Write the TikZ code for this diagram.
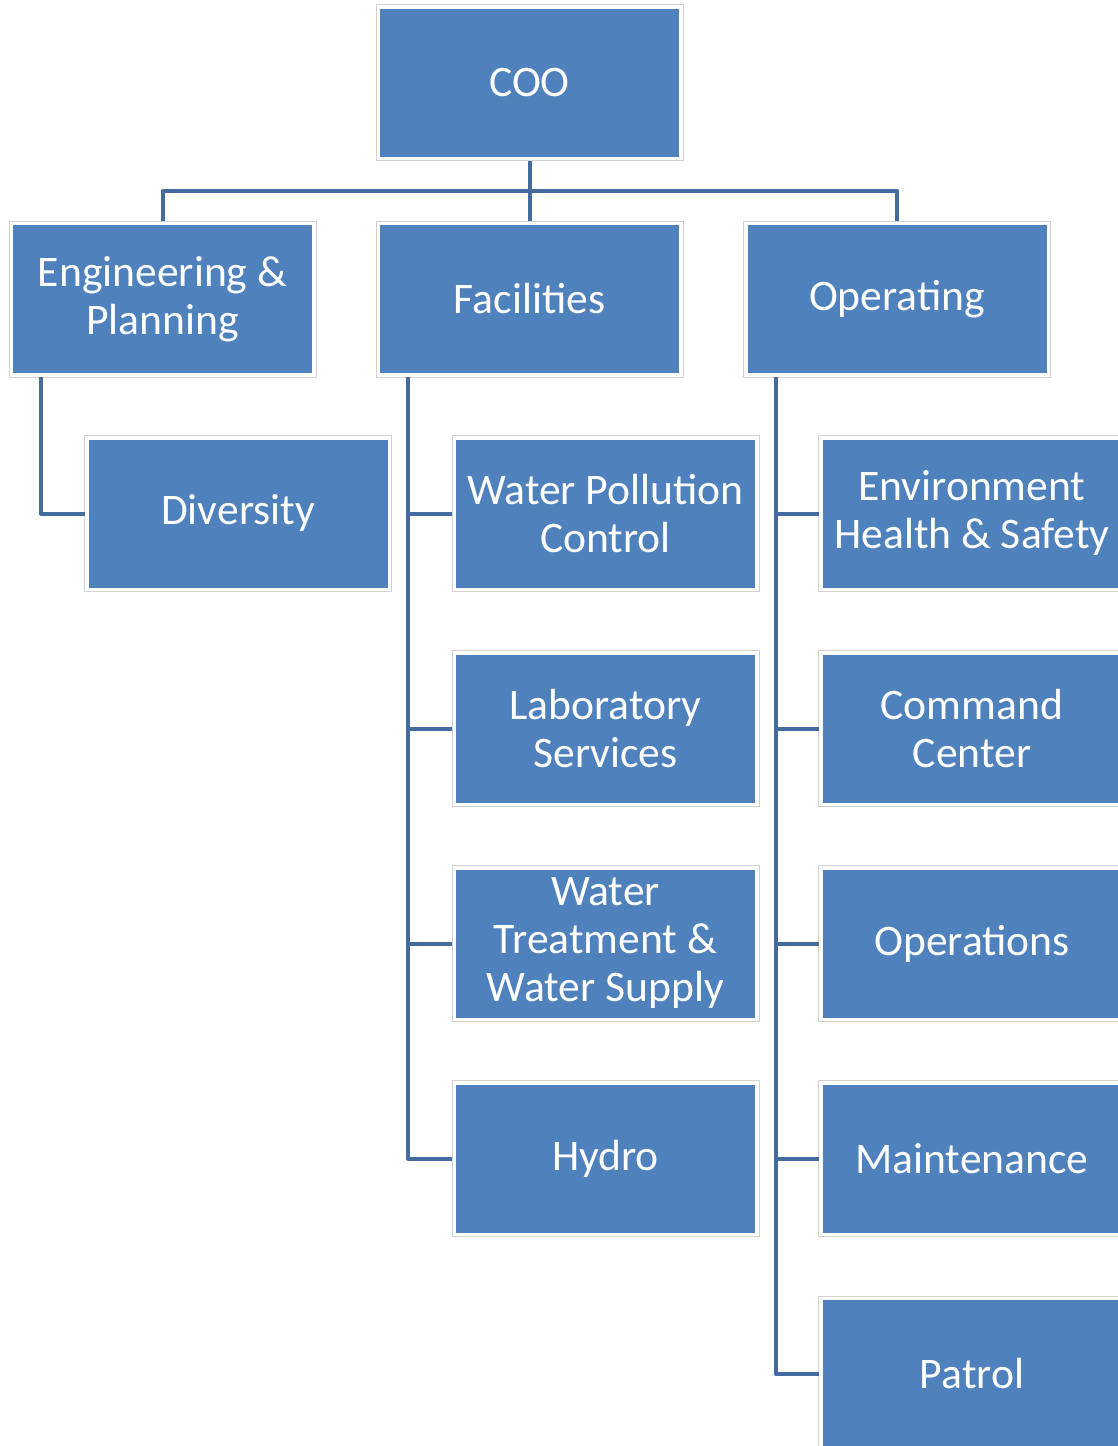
\documentclass[tikz,border=0pt]{standalone}
\usepackage{fontspec}
\setmainfont{Carlito}
\definecolor{boxblue}{HTML}{4F81BD}
\definecolor{connblue}{RGB}{67,107,160}
\definecolor{framegray}{HTML}{D2D2D2}
\begin{document}
\begin{tikzpicture}[x=0.5pt,y=-0.5pt,
  box/.style={fill=boxblue, text=white, minimum width=149.5pt, minimum height=74pt,
    inner sep=0pt, outer sep=2pt, align=center,
    font=\fontsize{21.8pt}{24pt}\selectfont},
  frame/.style={draw=framegray, line width=0.5pt},
  conn/.style={draw=connblue, line width=2pt, line join=round}]
\useasboundingbox (0,0) rectangle (1118,1446);
% nodes
\node[box] (coo) at (529.5,82.5) {COO};
\node[box] (eng) at (162.5,299) {Engineering \&\\Planning};
\node[box] (fac) at (529.5,299) {Facilities};
\node[box] (ope) at (897,299) {Operating};
\node[box] (div) at (238,513.5) {Diversity};
\node[box] (wpc) at (605.5,513.5) {Water Pollution\\Control};
\node[box] (lab) at (605.5,728.5) {Laboratory\\Services};
\node[box] (wts) at (605.5,943.5) {Water\\Treatment \&\\Water Supply};
\node[box] (hyd) at (605.5,1158.5) {Hydro};
\node[box] (ehs) at (972,513.5) {Environment\\Health \& Safety};
\node[box] (cmd) at (972,728.5) {Command\\Center};
\node[box] (ops) at (972,943.5) {Operations};
\node[box] (mnt) at (972,1158.5) {Maintenance};
\node[box] (pat) at (972,1374) {Patrol};
% frames
\foreach \n in {coo,eng,fac,ope,div,wpc,lab,wts,hyd,ehs,cmd,ops,mnt,pat}
  \draw[frame] (\n.south west) rectangle (\n.north east);
% connectors
\coordinate (bus) at (529.5,191);
\draw[conn] (coo.south) -- (bus);
\draw[conn] (eng.north) |- (bus);
\draw[conn] (ope.north) |- (bus);
\draw[conn] (fac.north) -- (fac.north |- bus);
\coordinate (etrunk) at ([xshift=16pt]eng.south west);
\coordinate (ftrunk) at ([xshift=16pt]fac.south west);
\coordinate (otrunk) at ([xshift=16pt]ope.south west);
\draw[conn] (etrunk) |- (div.west);
\draw[conn] (ftrunk) |- (hyd.west);
\foreach \n in {wpc,lab,wts}
  \draw[conn] (\n.west) -- (\n.west -| ftrunk);
\draw[conn] (otrunk) |- (pat.west);
\foreach \n in {ehs,cmd,ops,mnt}
  \draw[conn] (\n.west) -- (\n.west -| otrunk);
\end{tikzpicture}
\end{document}
